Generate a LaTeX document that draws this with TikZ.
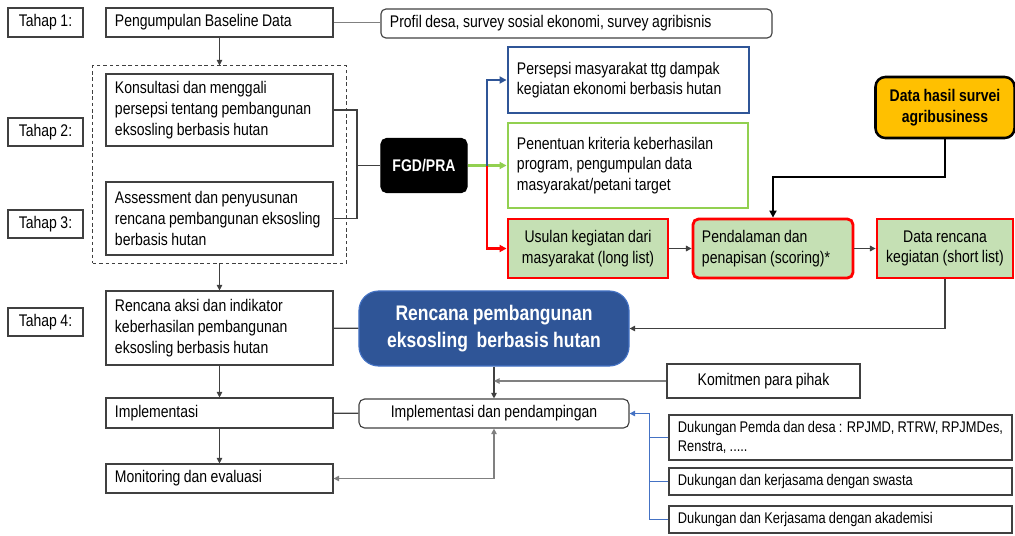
\documentclass[tikz,border=0pt]{standalone}
\usepackage{fontspec}
\setmainfont{Liberation Sans}[FakeStretch=0.83, WordSpace=0.9]
\usetikzlibrary{arrows.meta}
\usetikzlibrary{fit}
\hyphenpenalty=10000
\definecolor{biruTua}{HTML}{2F5597}
\definecolor{biruMuda}{HTML}{4472C4}
\definecolor{hijau}{HTML}{92D050}
\definecolor{hijauMuda}{HTML}{C5E0B4}
\definecolor{merah}{HTML}{FF0000}
\definecolor{oranye}{HTML}{FFC000}
\definecolor{kelabu}{HTML}{404040}
\definecolor{abu}{HTML}{808080}
\tikzset{
  teks/.style={font=\fontsize{12}{14.7}\selectfont},
  kotak/.style={draw=kelabu, line width=0.8pt, inner xsep=0.225cm, inner ysep=0pt, teks},
  kiri/.style={kotak, align=flush left, text width=#1},
  tengah/.style={kotak, align=center},
  tahap/.style={tengah, minimum width=1.875cm},
  kecil/.style={kiri=#1, font=\fontsize{11}{13.2}\selectfont},
  garis/.style={draw=kelabu, line width=0.8pt},
  panah/.style={garis, -{Triangle[length=4pt,width=4pt]}},
  tebal/.style={line width=1.6pt, -{Triangle[length=5pt,width=5pt]}}
}

\begin{document}
\begin{tikzpicture}[x=0.025cm, y=-0.025cm]
\useasboundingbox (0,0) rectangle (1015,535);
% Tahap
\node [tahap, minimum height=0.725cm] (t1) at (45.5,22.5) {Tahap 1:};
\node [tahap, minimum height=0.7cm] (t2) at (45.5,132) {Tahap 2:};
\node [tahap, minimum height=0.7cm] (t3) at (45.5,224) {Tahap 3:};
\node [tahap, minimum height=0.7cm] (t4) at (45.5,322) {Tahap 4:};
% Left column
\node [kiri=5.225cm, minimum height=0.725cm] (baseline) at (219.5,22.5) {Pengumpulan Baseline Data};
\node [kiri=9.325cm, minimum height=0.725cm, rounded corners=3.5pt] (profil) at (576.5,23.5) {Profil desa, survey sosial ekonomi, survey agribisnis};
\node [kiri=5.225cm, minimum height=1.8cm] (konsultasi) at (219.5,110) {Konsultasi dan menggali\\persepsi tentang pembangunan\\eksosling berbasis hutan};
\node [kiri=5.225cm, minimum height=1.825cm] (assessment) at (219.5,218.5) {Assessment dan penyusunan\\rencana pembangunan eksosling\\berbasis hutan};
\node [draw=kelabu, dashed, dash pattern=on 2.5pt off 2pt, line width=0.7pt, fit=(konsultasi)(assessment), inner xsep=0.3125cm, inner ysep=0.1875cm] (grup) {};
\node [kiri=5.225cm, minimum height=1.85cm] (aksi) at (219.5,328) {Rencana aksi dan indikator\\keberhasilan pembangunan\\eksosling berbasis hutan};
\node [kiri=5.225cm, minimum height=0.75cm] (implementasi) at (219.5,413) {Implementasi};
\node [kiri=5.225cm, minimum height=0.725cm] (monev) at (219.5,478.5) {Monitoring dan evaluasi};
% FGD and results
\node [tengah, fill=black, draw=black, rounded corners=4pt, minimum width=2.15cm, minimum height=1.35cm, text=white, font=\bfseries\fontsize{12}{14.7}\selectfont] (fgd) at (424,165.5) {FGD/PRA};
\node [kiri=5.575cm, draw=biruTua, line width=2pt, minimum height=1.65cm] (persepsi) at (628.5,80) {Persepsi masyarakat ttg dampak\\kegiatan ekonomi berbasis hutan};
\node [kiri=5.55cm, draw=hijau, line width=2pt, minimum height=2.125cm] (kriteria) at (628,165.5) {Penentuan kriteria keberhasilan\\program, pengumpulan data\\masyarakat/petani target};
\node [tengah, fill=hijauMuda, draw=merah, line width=2pt, minimum width=4cm, minimum height=1.475cm] (usulan) at (588,248.5) {Usulan kegiatan dari\\masyarakat (long list)};
\node [kiri=3.55cm, fill=hijauMuda, draw=merah, line width=2pt, rounded corners=4pt, minimum height=1.475cm] (pendalaman) at (773,248.5) {Pendalaman dan\\penapisan (scoring)*};
\node [tengah, fill=hijauMuda, draw=merah, line width=2pt, minimum width=3.4cm, minimum height=1.475cm] (shortlist) at (945,248.5) {Data rencana\\kegiatan (short list)};
\node [tengah, fill=oranye, draw=black, line width=1.8pt, rounded corners=7pt, minimum width=3.475cm, minimum height=1.525cm, font=\bfseries\fontsize{12}{14.7}\selectfont] (survei) at (945,107.5) {Data hasil survei\\agribusiness};
% Plan and support
\node [tengah, fill=biruTua, draw=biruMuda, rounded corners=14pt, minimum width=6.75cm, minimum height=1.875cm, text=white, font=\bfseries\fontsize{15}{19}\selectfont] (rencana) at (494,328.5) {Rencana pembangunan\\eksosling~ berbasis hutan};
\node [tengah, rounded corners=4pt, minimum width=6.75cm, minimum height=0.725cm] (pendampingan) at (494,413.5) {Implementasi dan pendampingan};
\node [tengah, minimum width=4.825cm, minimum height=0.85cm] (komitmen) at (763.5,381) {Komitmen para pihak};
\node [kecil=8.125cm, minimum height=1.125cm] (pemda) at (840.5,437.5) {Dukungan Pemda dan desa : RPJMD, RTRW, RPJMDes,\\Renstra, .....};
\node [kecil=8.125cm, minimum height=0.675cm] (swasta) at (840.5,481.5) {Dukungan dan kerjasama dengan swasta};
\node [kecil=8.125cm, minimum height=0.675cm] (akademisi) at (840.5,519.5) {Dukungan dan Kerjasama dengan akademisi};
% Connectors
\coordinate (siku) at (357,165.5);
\coordinate (cabang) at (487,165.5);
\draw [draw=abu, line width=0.7pt] (baseline.east) -- (baseline.east -| profil.west);
\draw [panah] (baseline) -- (grup);
\draw [garis] (konsultasi.east) -| (siku) |- (assessment.east);
\draw [garis] (siku) -- (fgd);
\draw [tebal, hijau] (fgd) -- (kriteria);
\draw [tebal, biruTua] (cabang) |- (persepsi.west);
\draw [tebal, merah] (cabang) |- (usulan.west);
\draw [panah] (usulan) -- (pendalaman);
\draw [panah] (pendalaman) -- (shortlist);
\draw [line width=1.8pt, -{Triangle[length=5pt,width=5pt]}] (survei.south) -- (survei.south |- 0,177) -| (pendalaman.north);
\draw [panah] (shortlist.south) |- (rencana.east);
\draw [panah] (grup) -- (aksi);
\draw [garis] (aksi) -- (rencana);
\draw [panah] (aksi) -- (implementasi);
\draw [panah] (implementasi) -- (monev);
\draw [garis] (implementasi) -- (pendampingan);
\draw [panah] (rencana) -- (pendampingan);
\draw [panah, draw=abu] (komitmen.west) -- (rencana.south |- komitmen.west);
\draw [draw=abu, line width=0.8pt, {Triangle[length=4pt,width=4pt]}-{Triangle[length=4pt,width=4pt]}] (pendampingan.south) |- (monev.east);
\draw [draw=biruMuda, line width=0.7pt, -{Triangle[length=4pt,width=4pt]}] (akademisi.west) -- ++(-19,0) |- (pendampingan.east);
\draw [draw=biruMuda, line width=0.7pt] (pemda.west) -- ++(-19,0);
\draw [draw=biruMuda, line width=0.7pt] (swasta.west) -- ++(-19,0);
\end{tikzpicture}
\end{document}
